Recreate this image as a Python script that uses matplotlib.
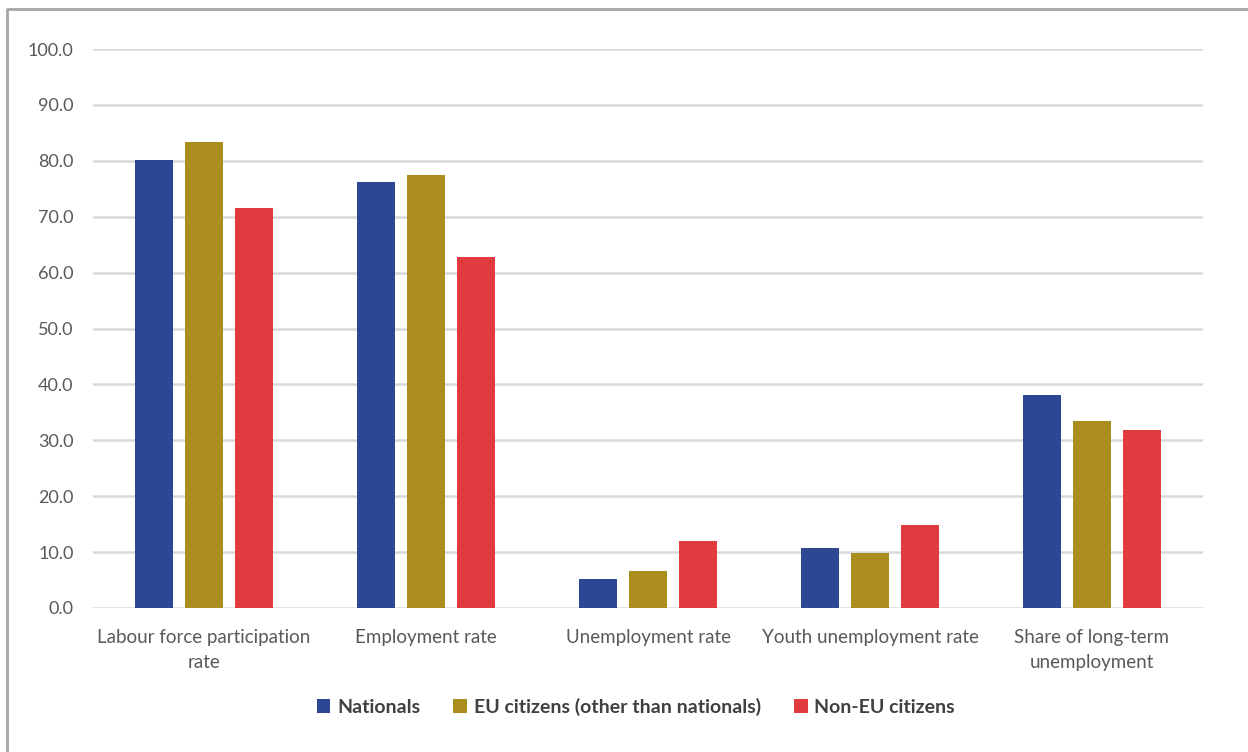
import matplotlib
matplotlib.use("Agg")
import matplotlib.pyplot as plt
from matplotlib.lines import Line2D
import numpy as np

plt.rcParams['font.family'] = ['Lato', 'DejaVu Sans']

categories = ["Labour force participation\nrate", "Employment rate", "Unemployment rate",
              "Youth unemployment rate", "Share of long-term\nunemployment"]
series_names = ["Nationals", "EU citizens (other than nationals)", "Non-EU citizens"]
nationals = [80.2, 76.2, 5.1, 10.7, 38.1]
eu_citizens = [83.3, 77.5, 6.6, 9.9, 33.5]
non_eu_citizens = [71.6, 62.8, 12.0, 14.9, 31.8]
yticks = [0, 10, 20, 30, 40, 50, 60, 70, 80, 90, 100]

colors = ["#2E4793", "#AC8E1E", "#E03C3F"]
text_color = "#595959"

fig = plt.figure(figsize=(12.48, 7.52), dpi=100)
ax = fig.add_axes([93 / 1248, 1 - 608 / 752, 1110 / 1248, 559 / 752])

x = np.arange(len(categories))
width = 0.175
offsets = [-0.225, 0.0, 0.225]
for vals, off, col, name in zip([nationals, eu_citizens, non_eu_citizens], offsets, colors, series_names):
    ax.bar(x + off, vals, width, color=col, label=name, zorder=3)

ax.set_xlim(-0.5, len(categories) - 0.5)
ax.set_ylim(0, 100)
ax.set_yticks(yticks)
ax.set_yticklabels([f"{v:.1f}" for v in yticks])
ax.set_xticks(x)
ax.set_xticklabels(categories, linespacing=1.6)
ax.tick_params(axis='x', length=0, labelsize=13.5, colors=text_color, pad=15)
ax.tick_params(axis='y', length=0, labelsize=13, colors=text_color, pad=14)
ax.yaxis.grid(True, color="#d9d9d9", linewidth=1.8, zorder=0)
for s in ax.spines.values():
    s.set_visible(False)

leg = fig.legend(loc='center', bbox_to_anchor=(636 / 1248, 1 - 707 / 752), ncol=3, frameon=False,
                 handlelength=0.7, handleheight=0.7, handletextpad=0.35, columnspacing=1.7,
                 prop={'weight': 'bold', 'size': 14})
for t in leg.get_texts():
    t.set_color("#404040")

# outer frame (left and top edges)
fig.add_artist(Line2D([7 / 1248, 7 / 1248, 1.0], [0.0, 1 - 9 / 752, 1 - 9 / 752],
                      transform=fig.transFigure, color="#a6a6a6", linewidth=2))

fig.savefig("out.png", dpi=100, facecolor="white")
